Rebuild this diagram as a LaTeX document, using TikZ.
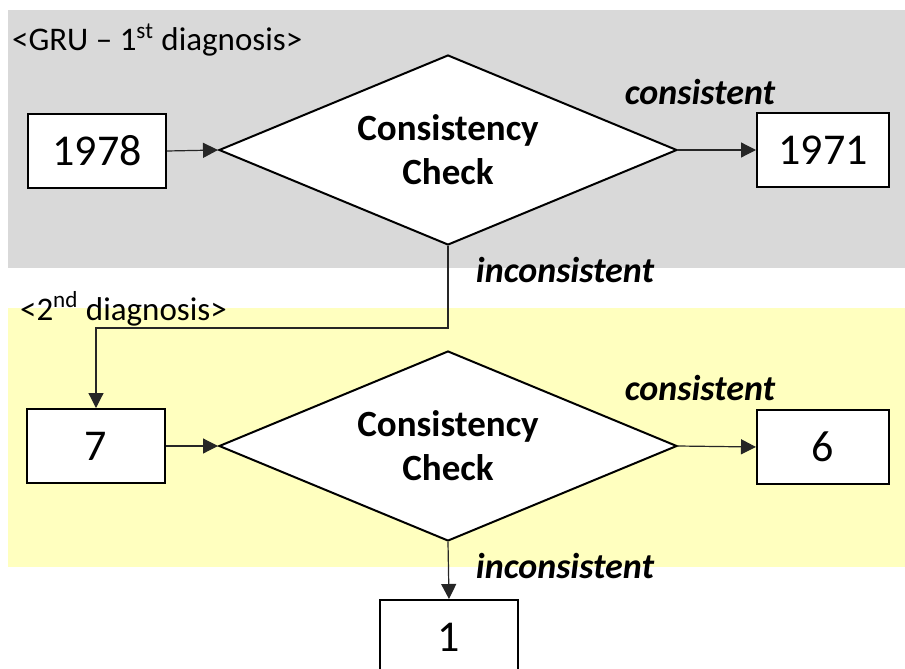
\documentclass[tikz,border=0pt]{standalone}
\usepackage{fontspec}
\setmainfont{Carlito}
\usetikzlibrary{shapes.geometric,arrows.meta}
\definecolor{grubg}{RGB}{217,217,217}
\definecolor{diagbg}{RGB}{255,255,191}

\begin{document}
\begin{tikzpicture}
  [x=0.5pt,y=-0.5pt,
   box/.style={draw,line width=1pt,fill=white,minimum width=69pt,minimum height=37pt,
     inner sep=0pt,font=\fontsize{22}{26}\selectfont},
   check/.style={diamond,aspect=2.4,draw,line width=1pt,fill=white,minimum width=229pt,
     minimum height=95pt,inner sep=0pt,align=center,font=\bfseries\fontsize{18.5}{22}\selectfont},
   lbl/.style={font=\bfseries\itshape\fontsize{18}{20}\selectfont},
   head/.style={anchor=west,font=\fontsize{16.5}{20}\selectfont},
   flow/.style={-{Triangle[length=7.5pt,width=7.5pt]},line width=0.6pt,draw=black!85}]
  \useasboundingbox (0,0) rectangle (905,669);
  \fill[grubg] (8,10) rectangle (905,268);
  \fill[diagbg] (8,308) rectangle (905,567);

  \node[head] (head1) at (5,40) {<GRU – 1\textsuperscript{st} diagnosis>};
  \node[head] (head2) at (13,309) {<2\textsuperscript{nd} diagnosis>};

  % first diagnosis
  \node[box] (n1978) at (97,151) {1978};
  \node[check] (chk1) at (448,150) {Consistency\\Check};
  \node[box,minimum width=66pt] (n1971) at (823,150) {1971};
  \node[lbl] (c1) at (700,92) {consistent};
  \node[lbl] (i1) at (565,270) {inconsistent};

  % second diagnosis
  \node[box] (n7) at (96,446) {7};
  \node[check] (chk2) at (448,446) {Consistency\\Check};
  \node[box,minimum width=66pt] (n6) at (823,447) {6};
  \node[lbl] (c2) at (700,388) {consistent};
  \node[lbl] (i2) at (565,566) {inconsistent};
  \node[box] (n1) at (449,637) {1};

  \coordinate (bend) at (448,328);

  \foreach \from/\to in {n1978/chk1,chk1/n1971,n7/chk2,chk2/n6}
    \draw[flow] (\from.east) -- (\to.west);
  \draw[flow] (chk1.south) -- (bend) -| (n7.north);
  \draw[flow] (chk2.south) -- (n1.north);

\end{tikzpicture}
\end{document}
